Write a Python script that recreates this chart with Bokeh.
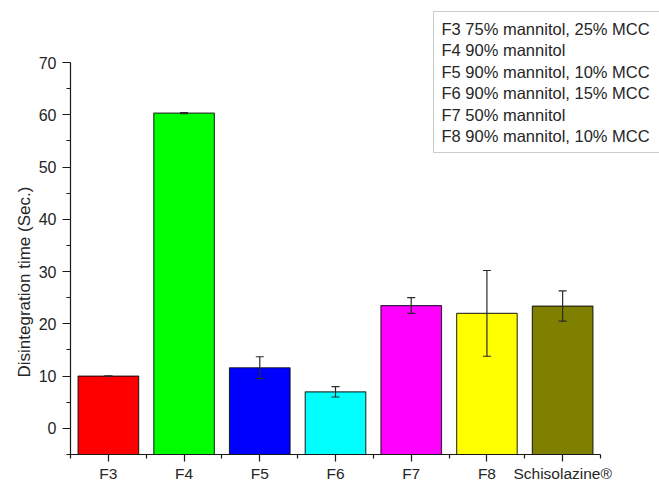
import numpy as np
from bokeh.plotting import figure
from bokeh.models import (ColumnDataSource, Range1d, FixedTicker, Whisker, TeeHead,
                          BoxAnnotation, Title)
from bokeh.core.properties import value
from bokeh.embed import file_html
from bokeh.resources import INLINE

# Disintegration time per formulation (mean and standard deviation, seconds)
categories = ["F3", "F4", "F5", "F6", "F7", "F8", "Schisolazine®"]
times = [10.0, 60.3, 11.6, 7.0, 23.5, 22.0, 23.4]
errors = [0.0, 0.1, 2.1, 1.0, 1.5, 8.2, 2.9]
colors = ["#FF0000", "#00FF00", "#0000FF", "#00FFFF", "#FF00FF", "#FFFF00", "#808000"]

# Composition notes shown in the box at the top right
notes = [
    "F3 75% mannitol, 25% MCC",
    "F4 90% mannitol",
    "F5 90% mannitol, 10% MCC",
    "F6 90% mannitol, 15% MCC",
    "F7 50% mannitol",
    "F8 90% mannitol, 10% MCC",
]

y_ticks = [0, 10, 20, 30, 40, 50, 60, 70]
Y_MIN, Y_MAX = -5, 70

FONT = "Liberation Sans"
TXT = "#262626"

# Plot frame geometry (pixels)
W, H = 659, 481
FRAME_LEFT, FRAME_TOP, FRAME_BOTTOM = 70, 0, 454
AXIS_RIGHT = 600          # where the category axis ends
Y_TOP_PX = 62             # pixel row of the y = 70 tick

n = len(categories)
px_per_x = (AXIS_RIGHT - FRAME_LEFT) / n
px_per_y = (FRAME_BOTTOM - Y_TOP_PX) / (Y_MAX - Y_MIN)
x_end = (W - FRAME_LEFT) / px_per_x
y_end = Y_MAX + (Y_TOP_PX - FRAME_TOP) / px_per_y


def sx(px):
    return (px - FRAME_LEFT) / px_per_x


def sy(py):
    return Y_MIN + (FRAME_BOTTOM - py) / px_per_y


x = np.arange(n) + 0.5
src = ColumnDataSource(dict(
    x=x,
    top=times,
    bottom=[Y_MIN] * n,
    upper=[t + e for t, e in zip(times, errors)],
    lower=[t - e for t, e in zip(times, errors)],
    color=colors,
))

p = figure(width=W, height=H,
           frame_width=W - FRAME_LEFT, frame_height=FRAME_BOTTOM - FRAME_TOP,
           x_range=Range1d(0, x_end), y_range=Range1d(Y_MIN, y_end),
           output_backend="svg", toolbar_location=None,
           min_border_left=FRAME_LEFT, min_border_right=0,
           min_border_top=FRAME_TOP, min_border_bottom=H - FRAME_BOTTOM)
p.outline_line_color = None
p.xgrid.visible = False
p.ygrid.visible = False
p.background_fill_color = "white"
p.border_fill_color = "white"

p.vbar(x="x", top="top", bottom="bottom", width=0.8, source=src,
       fill_color="color", line_color="black", line_alpha=0.75, line_width=1.2)

whisker = Whisker(base="x", upper="upper", lower="lower", source=src,
                  line_color="#2b2b2b", line_width=1.2, level="annotation",
                  upper_head=TeeHead(size=8, line_color="#2b2b2b", line_width=1.2),
                  lower_head=TeeHead(size=8, line_color="#2b2b2b", line_width=1.2))
p.add_layout(whisker)

# Axes
xa = p.xaxis[0]
xa.ticker = FixedTicker(ticks=list(x), minor_ticks=list(range(n + 1)))
xa.major_label_overrides = {float(xi): c for xi, c in zip(x, categories)}
xa.bounds = (0, n)
xa.major_tick_out = 7
xa.major_tick_in = 0
xa.minor_tick_out = 4
xa.minor_tick_in = 0
xa.major_label_standoff = 3
xa.major_label_text_font = FONT
xa.major_label_text_font_size = "15.5px"
xa.major_label_text_color = TXT

ya = p.yaxis[0]
ya.ticker = FixedTicker(ticks=y_ticks, minor_ticks=[v + 5 for v in [Y_MIN - 5] + y_ticks[:-1]])
ya.bounds = (Y_MIN, Y_MAX)
ya.major_tick_out = 8
ya.major_tick_in = 0
ya.minor_tick_out = 4
ya.minor_tick_in = 0
ya.major_label_standoff = 6
ya.major_label_text_font = FONT
ya.major_label_text_font_size = "16px"
ya.major_label_text_color = TXT

for ax in (xa, ya):
    ax.axis_line_color = "#1a1a1a"
    ax.axis_line_width = 1.2
    ax.major_tick_line_color = "#1a1a1a"
    ax.major_tick_line_width = 1.2
    ax.minor_tick_line_color = "#1a1a1a"
    ax.minor_tick_line_width = 1.2

# Y axis title, anchored from the bottom so it centres on the drawn axis span
y_title = Title(text="Disintegration time (Sec.)", align="left",
                offset=77,
                text_font=FONT, text_font_size="17px", text_font_style="normal",
                text_color=TXT, standoff=4)
p.add_layout(y_title, "left")

# Composition box
box = BoxAnnotation(left=sx(433), right=x_end + 1, top=sy(11), bottom=sy(152),
                    fill_color="white", fill_alpha=1.0,
                    line_color="#555555", line_width=1, level="annotation")
p.add_layout(box)

line_y = [28.5 + 21.4 * i for i in range(len(notes))]
p.text(x=[sx(441)] * len(notes), y=[sy(v) for v in line_y], text=notes,
       text_font=value(FONT), text_font_size="16.5px", text_color=TXT,
       text_align="left", text_baseline="middle", level="overlay")

open("out.html", "w").write(file_html(p, INLINE))
